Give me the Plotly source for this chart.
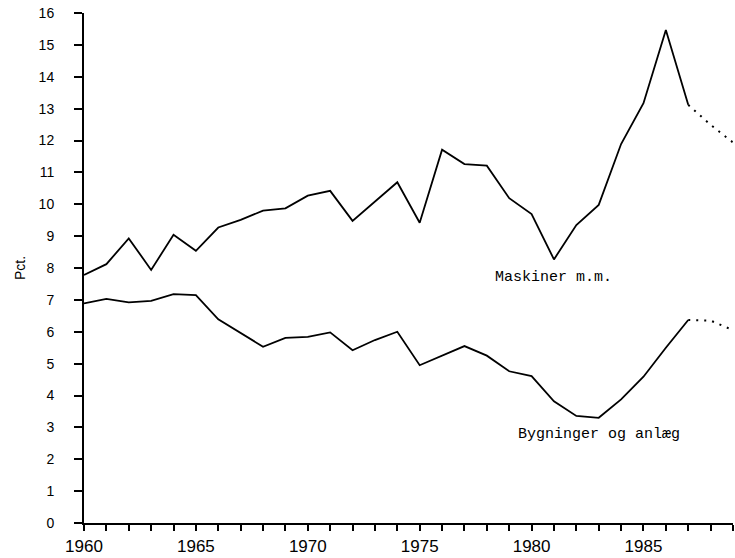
import plotly.graph_objects as go

years = list(range(1960, 1990))
maskiner = [7.78, 8.12, 8.93, 7.94, 9.04, 8.54, 9.27, 9.51, 9.80, 9.87,
            10.27, 10.42, 9.48, 10.08, 10.69, 9.42, 11.71, 11.26, 11.21, 10.19,
            9.69, 8.27, 9.35, 9.98, 11.89, 13.17, 15.47, 13.12, 12.49, 11.94]
bygninger = [6.89, 7.03, 6.92, 6.97, 7.18, 7.15, 6.39, 5.95, 5.53, 5.81,
             5.84, 5.98, 5.42, 5.74, 6.00, 4.95, 5.24, 5.55, 5.25, 4.76,
             4.61, 3.82, 3.36, 3.30, 3.88, 4.59, 5.50, 6.37, 6.35, 6.05]
last_actual = 1987  # dotted afterwards (forecast)

x_tickvals = years
x_ticktext = [str(y) if y % 5 == 0 else "" for y in years]
y_tickvals = list(range(0, 17))

SANS = "Liberation Sans"
MONO = "Liberation Mono"  # wide, evenly spaced like the plotter lettering

fig = go.Figure()

k = years.index(last_actual)
for series in (maskiner, bygninger):
    fig.add_trace(go.Scatter(x=years[:k + 1], y=series[:k + 1], mode="lines",
                             line=dict(color="black", width=1.8), showlegend=False))
    fig.add_trace(go.Scatter(x=years[k:], y=series[k:], mode="lines",
                             line=dict(color="black", width=2, dash="2px,6px"),
                             showlegend=False))

fig.add_annotation(x=1981.0, y=7.7, text="Maskiner m.m.", showarrow=False,
                   font=dict(family=MONO, size=15, color="black"))
fig.add_annotation(x=1983.0, y=2.78, text="Bygninger og anlæg", showarrow=False,
                   font=dict(family=MONO, size=15, color="black"))

fig.update_layout(
    width=735, height=558,
    margin=dict(l=84, r=2, t=13, b=35),
    plot_bgcolor="white", paper_bgcolor="white",
    font=dict(family=SANS, color="black"),
    xaxis=dict(range=[1960, 1989], tickmode="array", tickvals=x_tickvals,
               ticktext=x_ticktext, ticks="outside", ticklen=6, tickwidth=1.5,
               tickcolor="black", showline=True, linecolor="black", linewidth=2,
               showgrid=False, zeroline=False, tickfont=dict(size=17),
               ticklabelstandoff=1, automargin=False),
    yaxis=dict(range=[0, 16], tickmode="array", tickvals=y_tickvals,
               ticks="outside", ticklen=8, tickwidth=1.5, tickcolor="black",
               showline=True, linecolor="black", linewidth=2,
               showgrid=False, zeroline=False, tickfont=dict(size=14),
               ticklabelstandoff=17, automargin=False,
               title=dict(text="Pct.", font=dict(size=14), standoff=10)),
)

# page body has a default 8px margin; remove it so the figure sits at 0,0
fig.write_html("out.html", config={"displayModeBar": False},
               post_script="document.body.style.margin='0';")
